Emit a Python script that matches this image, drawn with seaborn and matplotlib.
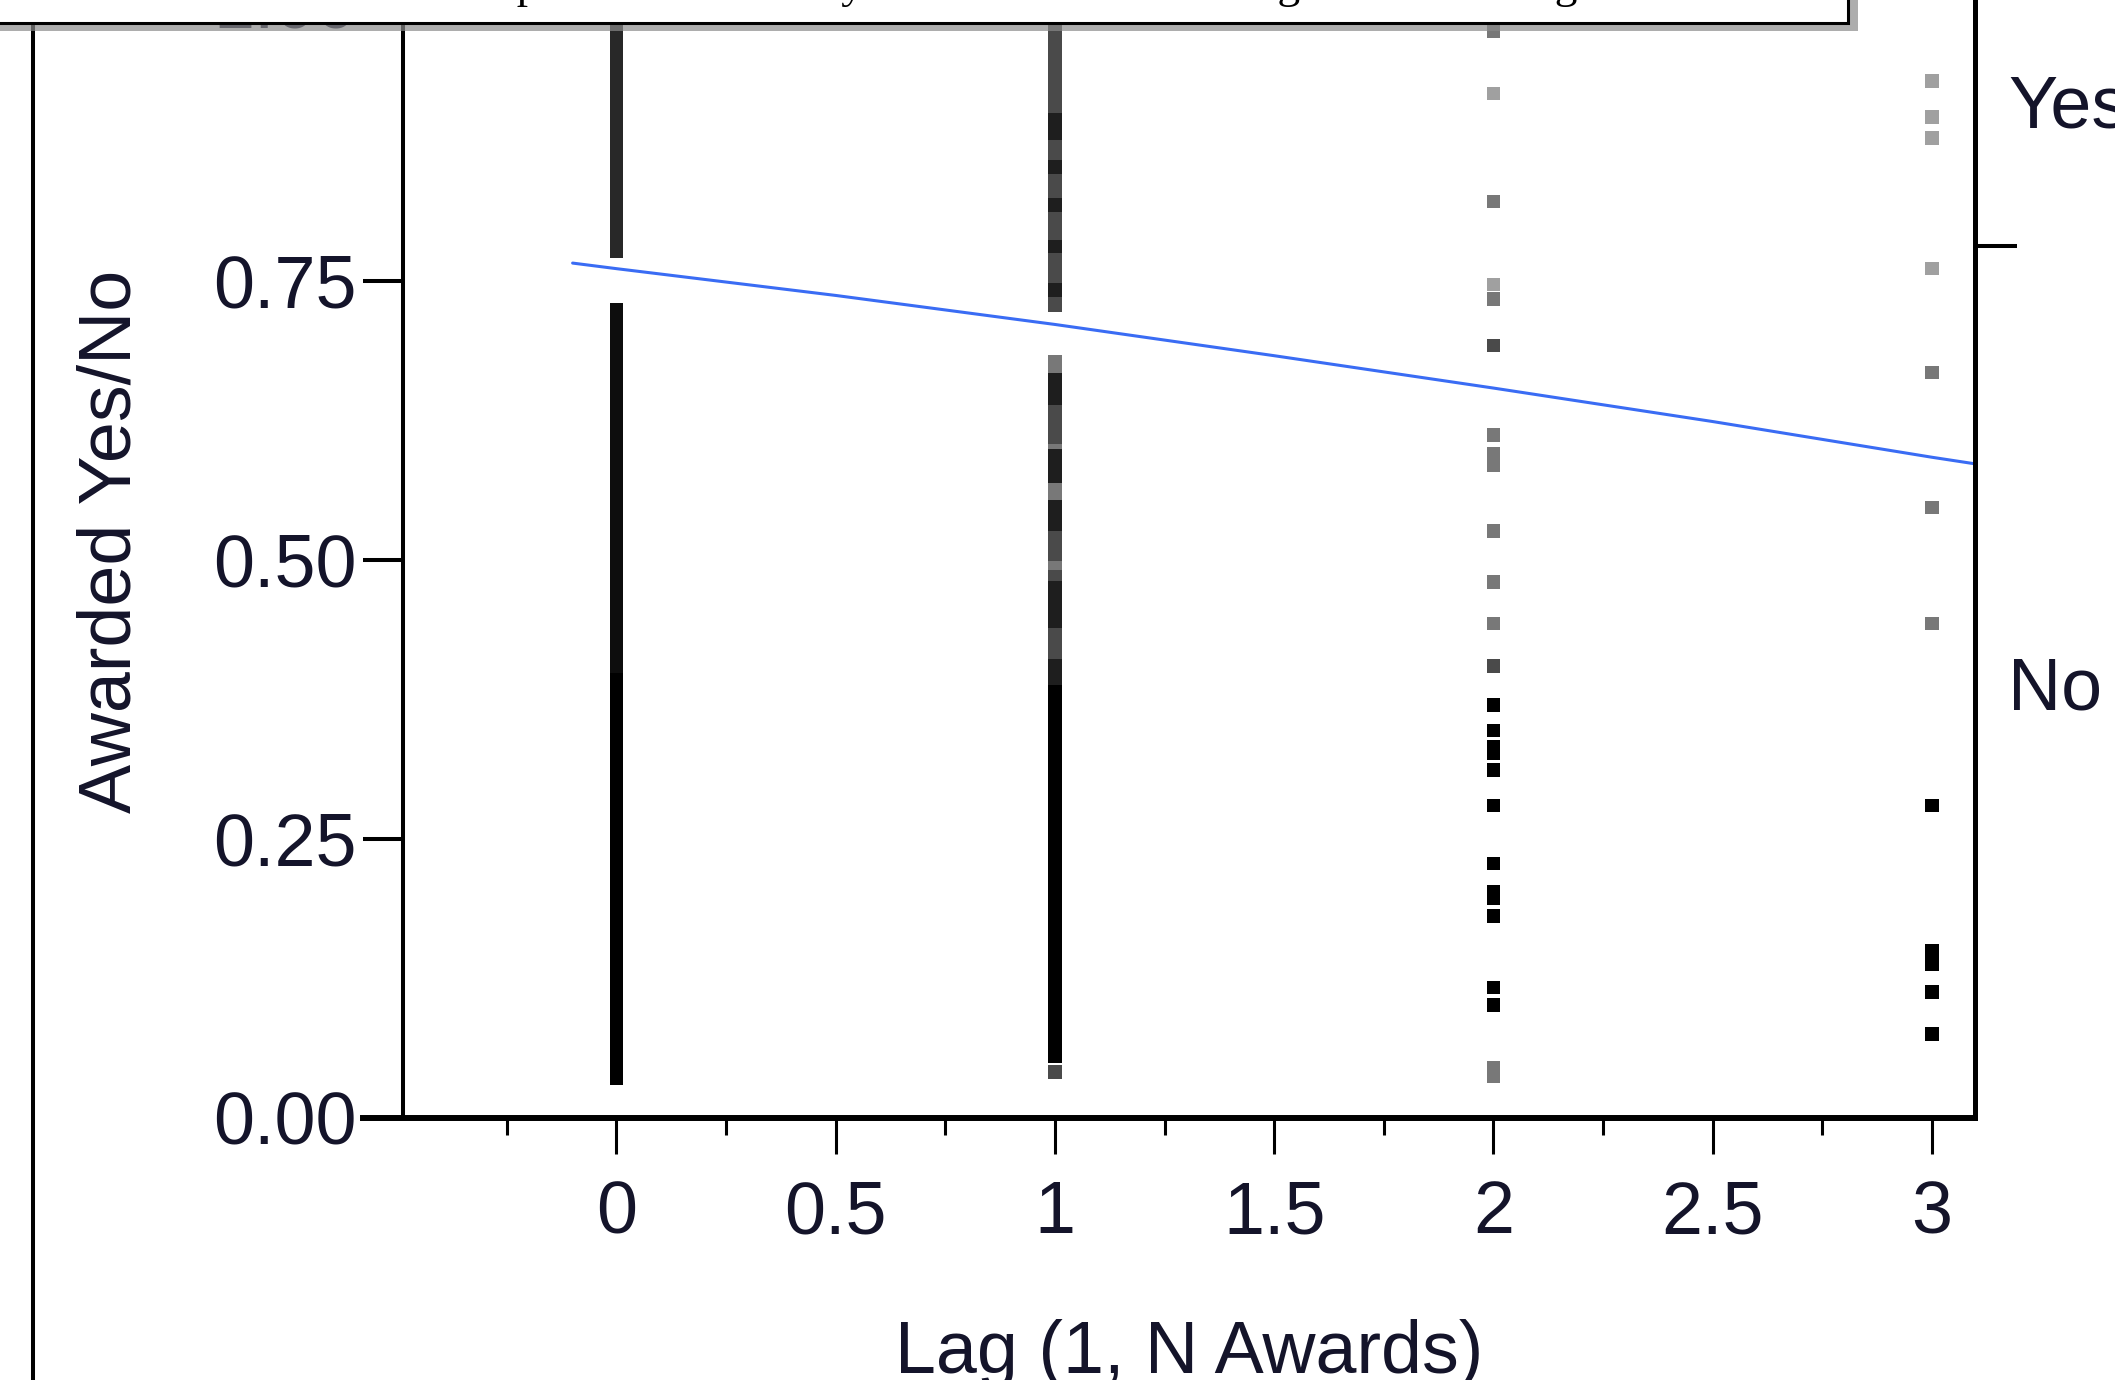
import pandas as pd
import matplotlib
matplotlib.use("Agg")
import matplotlib.pyplot as plt
import matplotlib.patheffects as pe
from matplotlib.patches import Rectangle
from matplotlib.lines import Line2D
from matplotlib.ticker import MultipleLocator
import seaborn as sns

# Logistic fit curve
curve_lag = [-0.1, 0, 0.5, 1, 1.5, 2, 2.5, 3, 3.1]
curve_prob = [0.766, 0.761, 0.737, 0.711, 0.683, 0.654, 0.624, 0.592, 0.586]

# Jittered points (Awarded Yes/No), grouped by lag and shade
lag0_black = [0.036, 0.046, 0.056, 0.066, 0.075, 0.086, 0.096, 0.106, 0.115, 0.126,
              0.136, 0.146, 0.155, 0.166, 0.176, 0.186, 0.195, 0.206, 0.216, 0.226,
              0.235, 0.246, 0.256, 0.266, 0.275, 0.286, 0.296, 0.306, 0.315, 0.326,
              0.336, 0.346, 0.355, 0.366, 0.376, 0.386, 0.396]
lag0_ink = [0.405, 0.414, 0.425, 0.434, 0.444, 0.455, 0.464, 0.475, 0.484, 0.495,
            0.505, 0.514, 0.524, 0.535, 0.544, 0.555, 0.565, 0.574, 0.585, 0.596,
            0.605, 0.614, 0.625, 0.635, 0.644, 0.655, 0.665, 0.674, 0.685, 0.695,
            0.704, 0.715, 0.724]
lag0_dim = [0.777, 0.786, 0.797, 0.806, 0.815, 0.826, 0.835, 0.846, 0.855, 0.866,
            0.875, 0.884, 0.895, 0.905, 0.914, 0.925, 0.935, 0.944, 0.955, 0.964,
            0.975, 0.984, 0.995]

lag1_black = [0.055, 0.065, 0.075, 0.086, 0.095, 0.105, 0.116, 0.125, 0.135, 0.146,
              0.155, 0.165, 0.176, 0.185, 0.195, 0.206, 0.215, 0.225, 0.236, 0.245,
              0.255, 0.266, 0.275, 0.285, 0.296, 0.305, 0.315, 0.326, 0.335, 0.345,
              0.356, 0.365, 0.375, 0.384]
lag1_dark = [0.394, 0.405, 0.445, 0.455, 0.465, 0.475, 0.532, 0.540, 0.548, 0.575,
             0.585, 0.593, 0.645, 0.655, 0.661,
             0.742, 0.781, 0.818, 0.852, 0.882, 0.894]
lag1_mid = [0.041, 0.415, 0.425, 0.435, 0.485, 0.505, 0.515, 0.525, 0.610, 0.620,
            0.630, 0.638,
            0.728, 0.735, 0.751, 0.760, 0.770, 0.790, 0.800, 0.809, 0.828, 0.837,
            0.845, 0.861, 0.870, 0.905, 0.914, 0.924, 0.933, 0.943, 0.952, 0.962,
            0.971, 0.981, 0.990, 0.998]
lag1_light = [0.495, 0.556, 0.565, 0.602, 0.668, 0.678]

lag2_black = [0.370, 0.347, 0.333, 0.327, 0.312, 0.280, 0.228, 0.203, 0.197, 0.181,
              0.117, 0.101]
lag2_mid = [0.692, 0.405]
lag2_light = [0.974, 0.821, 0.734, 0.612, 0.595, 0.585, 0.526, 0.480, 0.443, 0.045,
              0.037]
lag2_pale = [0.918, 0.747]

lag3_black = [0.280, 0.150, 0.138, 0.113, 0.075]
lag3_light = [0.668, 0.547, 0.443]
lag3_pale = [0.929, 0.897, 0.878, 0.761]

# right axis: share of "No" and where the level names sit
no_share = 0.781
level_names = ["No", "Yes"]
level_pos = [0.39, 0.912]

title = "Scatterplot of Awarded by Number of Awards Lag 1 with the Logistic Fit"

tone_colors = {"black": "#000000", "ink": "#0d0d0d", "dim": "#282828", "dark": "#1e1e1e",
               "mid": "#4a4a4a", "light": "#787878", "pale": "#a0a0a0"}

groups = [(0, lag0_black, "black"), (0, lag0_ink, "ink"), (0, lag0_dim, "dim"),
          (1, lag1_black, "black"), (1, lag1_light, "light"), (1, lag1_mid, "mid"),
          (1, lag1_dark, "dark"),
          (2, lag2_black, "black"), (2, lag2_light, "light"), (2, lag2_pale, "pale"),
          (2, lag2_mid, "mid"),
          (3, lag3_black, "black"), (3, lag3_light, "light"), (3, lag3_pale, "pale")]
rows = [(lag, y, tone) for lag, ys, tone in groups for y in ys]
points = pd.DataFrame(rows, columns=["lag", "awarded", "tone"])

sns.set_style("white")
plt.rcParams["font.family"] = ["Liberation Sans", "DejaVu Sans"]

fig = plt.figure(figsize=(21.15, 13.8), dpi=100)
ax = fig.add_axes([0.1905, 0.1899, 0.7433, 0.8087])

sns.scatterplot(data=points, x="lag", y="awarded", hue="tone", palette=tone_colors,
                marker="s", s=95, linewidth=0, legend=False, ax=ax, zorder=2)
sns.lineplot(x=curve_lag, y=curve_prob, color="#3a6cf4", linewidth=2.2, ax=ax, zorder=3)

ax.set_xlim(-0.487, 3.098)
ax.set_ylim(0, 1)
ax.set_xticks([0, 0.5, 1, 1.5, 2, 2.5, 3])
ax.set_xticklabels(["0", "0.5", "1", "1.5", "2", "2.5", "3"])
ax.xaxis.set_minor_locator(MultipleLocator(0.25))
ax.set_yticks([0, 0.25, 0.5, 0.75, 1.0])
ax.set_yticklabels(["0.00", "0.25", "0.50", "0.75", "1.00"])

ax.tick_params(axis="x", which="both", bottom=True, top=False)
ax.tick_params(axis="y", which="both", left=True, right=False)
ax.tick_params(axis="x", which="major", direction="out", length=26, width=2.2,
               pad=18, labelsize=53, colors="black")
ax.tick_params(axis="x", which="minor", direction="out", length=12, width=2.2,
               colors="black")
ax.tick_params(axis="y", which="major", direction="out", length=29, width=2.9,
               pad=4, labelsize=53, colors="black")
ax.tick_params(axis="both", labelcolor="#14142a")

ax.set_xlabel("Lag (1, N Awards)", fontsize=53, color="#14142a")
ax.xaxis.set_label_coords(0.5, -0.18)
ax.set_ylabel("Awarded Yes/No", fontsize=53, color="#14142a")
ax.yaxis.set_label_coords(-0.164, 0.517)

for side in ["top", "right"]:
    ax.spines[side].set_visible(False)
ax.spines["left"].set_linewidth(2.9)
ax.spines["left"].set_color("black")
ax.spines["bottom"].set_linewidth(4.3)
ax.spines["bottom"].set_color("black")
ax.spines["bottom"].set_bounds(-0.578, 3.098)

ax2 = ax.twinx()
ax2.set_ylim(0, 1)
ax2.set_yticks([no_share])
ax2.set_yticklabels([""])
ax2.set_yticks(level_pos, minor=True)
ax2.set_yticklabels(level_names, minor=True)
ax2.tick_params(axis="y", which="both", right=True, left=False)
ax2.tick_params(axis="y", which="major", length=30, width=2.9, colors="black")
ax2.tick_params(axis="y", which="minor", length=0, pad=24, labelsize=53,
                labelcolor="#14142a")
for side in ["top", "left", "bottom"]:
    ax2.spines[side].set_visible(False)
ax2.spines["right"].set_linewidth(3.6)
ax2.spines["right"].set_color("black")

# outer frame line on the left and the caption box at the top
fig.add_artist(Line2D([0.0158, 0.0158], [0, 1], transform=fig.transFigure,
                      color="black", linewidth=2.9))
box = Rectangle((-0.01, 0.9833), 0.8838, 0.05, transform=fig.transFigure,
                facecolor="white", edgecolor="black", linewidth=2.2, zorder=5,
                path_effects=[pe.withSimplePatchShadow(offset=(7, -6),
                                                       shadow_rgbFace="#8a8a8a",
                                                       alpha=0.7)])
fig.add_artist(box)
# the caption sits mostly above the top edge: only its descenders show
fig.text(0.1849, 1.0018, title, fontfamily=["Liberation Serif", "DejaVu Serif"],
         fontsize=32.6, ha="left", va="baseline", color="black", zorder=6)

plt.savefig("out.png", dpi=100)
